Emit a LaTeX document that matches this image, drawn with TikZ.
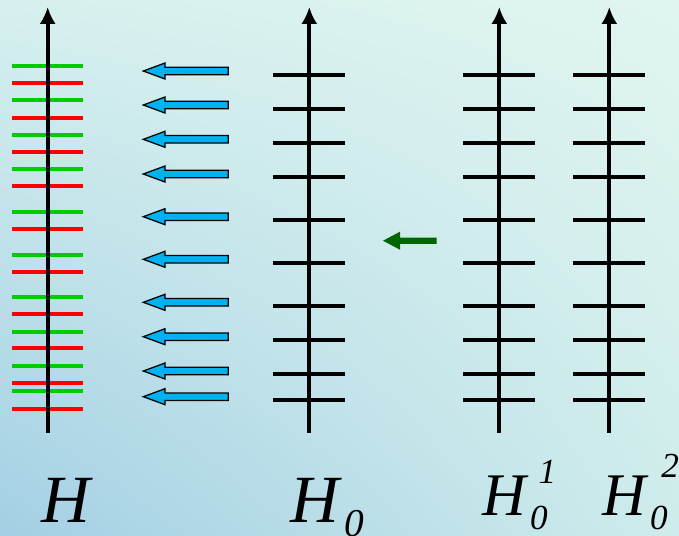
\documentclass[tikz,border=0pt]{standalone}
\usepackage{fontspec}
\setmainfont{Liberation Serif}
\usetikzlibrary{arrows.meta,shadings}

\definecolor{bgTL}{RGB}{214,240,238}
\definecolor{bgTR}{RGB}{224,245,240}
\definecolor{bgBL}{RGB}{163,207,228}
\definecolor{bgBR}{RGB}{206,236,235}
\definecolor{levgreen}{RGB}{0,204,0}
\definecolor{levred}{RGB}{255,0,0}
\definecolor{shiftblue}{RGB}{0,178,240}
\definecolor{shiftgreen}{RGB}{0,102,0}

\newcommand{\subsz}{\fontsize{25}{25}\selectfont\itshape}
% H with sub 0 and optional sup
\newcommand{\Hlev}[3]{\textit{H}\rlap{\hspace{1pt}\raisebox{-10pt}{\subsz 0}}\raisebox{#2}{\hspace{#3}\subsz #1}}

\tikzset{
  axis/.style={line width=3pt,-{Latex[length=4.2mm,width=4mm]}},
  level/.style={line width=2.9pt},
  tick/.style={line width=2.9pt,black},
  shiftarrow/.style={draw=black,line width=0.9pt,fill=shiftblue,line join=miter},
  label/.style={inner sep=0pt,anchor=base west}
}

\begin{document}
\begin{tikzpicture}[x=0.025cm,y=-0.025cm,>=Latex]
\shade[upper left=bgTL,upper right=bgTR,lower left=bgBL,lower right=bgBR] (0,0) rectangle (679,535);
\useasboundingbox (0,0) rectangle (679,535);

% levels of H
\foreach \y in {66.3,100.3,135,169,211.7,255,297,331.7,365.7,391.3}
  \draw[level,levgreen] (12,\y) -- (83,\y);
\foreach \y in {83,117.7,152,185.7,229,271.7,314,348.3,382.7,408.7}
  \draw[level,levred] (12,\y) -- (83,\y);

% levels of H0, H0^1, H0^2
\foreach \x in {309.3,499.3,609.3}
  \foreach \y in {74.7,108.7,143.3,177.3,220,263.3,305.7,340,374.3,400}
    \draw[tick] (\x-36,\y) -- (\x+36,\y);

% energy axes
\coordinate (axH) at (47.7,433);
\coordinate (axHo) at (309.3,433);
\coordinate (axHa) at (499.3,433);
\coordinate (axHb) at (609.3,433);
\foreach \a in {axH,axHo,axHa,axHb}
  \draw[axis] (\a) -- ++(0,-426);

% shifts from H0 to H
\foreach \y in {71,105,139.3,174,216.7,259.3,302.3,336.7,371,396.7}
  \draw[shiftarrow] (143.3,\y) -- (165,\y-8) -- (165,\y-3.7) -- (228.3,\y-3.7) -- (228.3,\y+3.7) -- (165,\y+3.7) -- (165,\y+8) -- cycle;

\fill[shiftgreen] (383,240.7) -- (400,231.7) -- (400,237.5) -- (436.7,237.5) -- (436.7,243.9) -- (400,243.9) -- (400,249.7) -- cycle;

\node[label,font=\fontsize{48}{50}\selectfont] (lH) at (41,522.7) {\textit{H}};
\node[label,font=\fontsize{48}{50}\selectfont] (lHo) at (290,522.7) {\textit{H}\raisebox{-10pt}{\hspace{2pt}\fontsize{28}{28}\selectfont\itshape 0}};
\node[label,font=\fontsize{43}{45}\selectfont] (lHa) at (482,515) {\Hlev{1}{22.5pt}{7pt}};
\node[label,font=\fontsize{43}{45}\selectfont] (lHb) at (602,515) {\Hlev{2}{27pt}{9pt}};
\end{tikzpicture}
\end{document}
